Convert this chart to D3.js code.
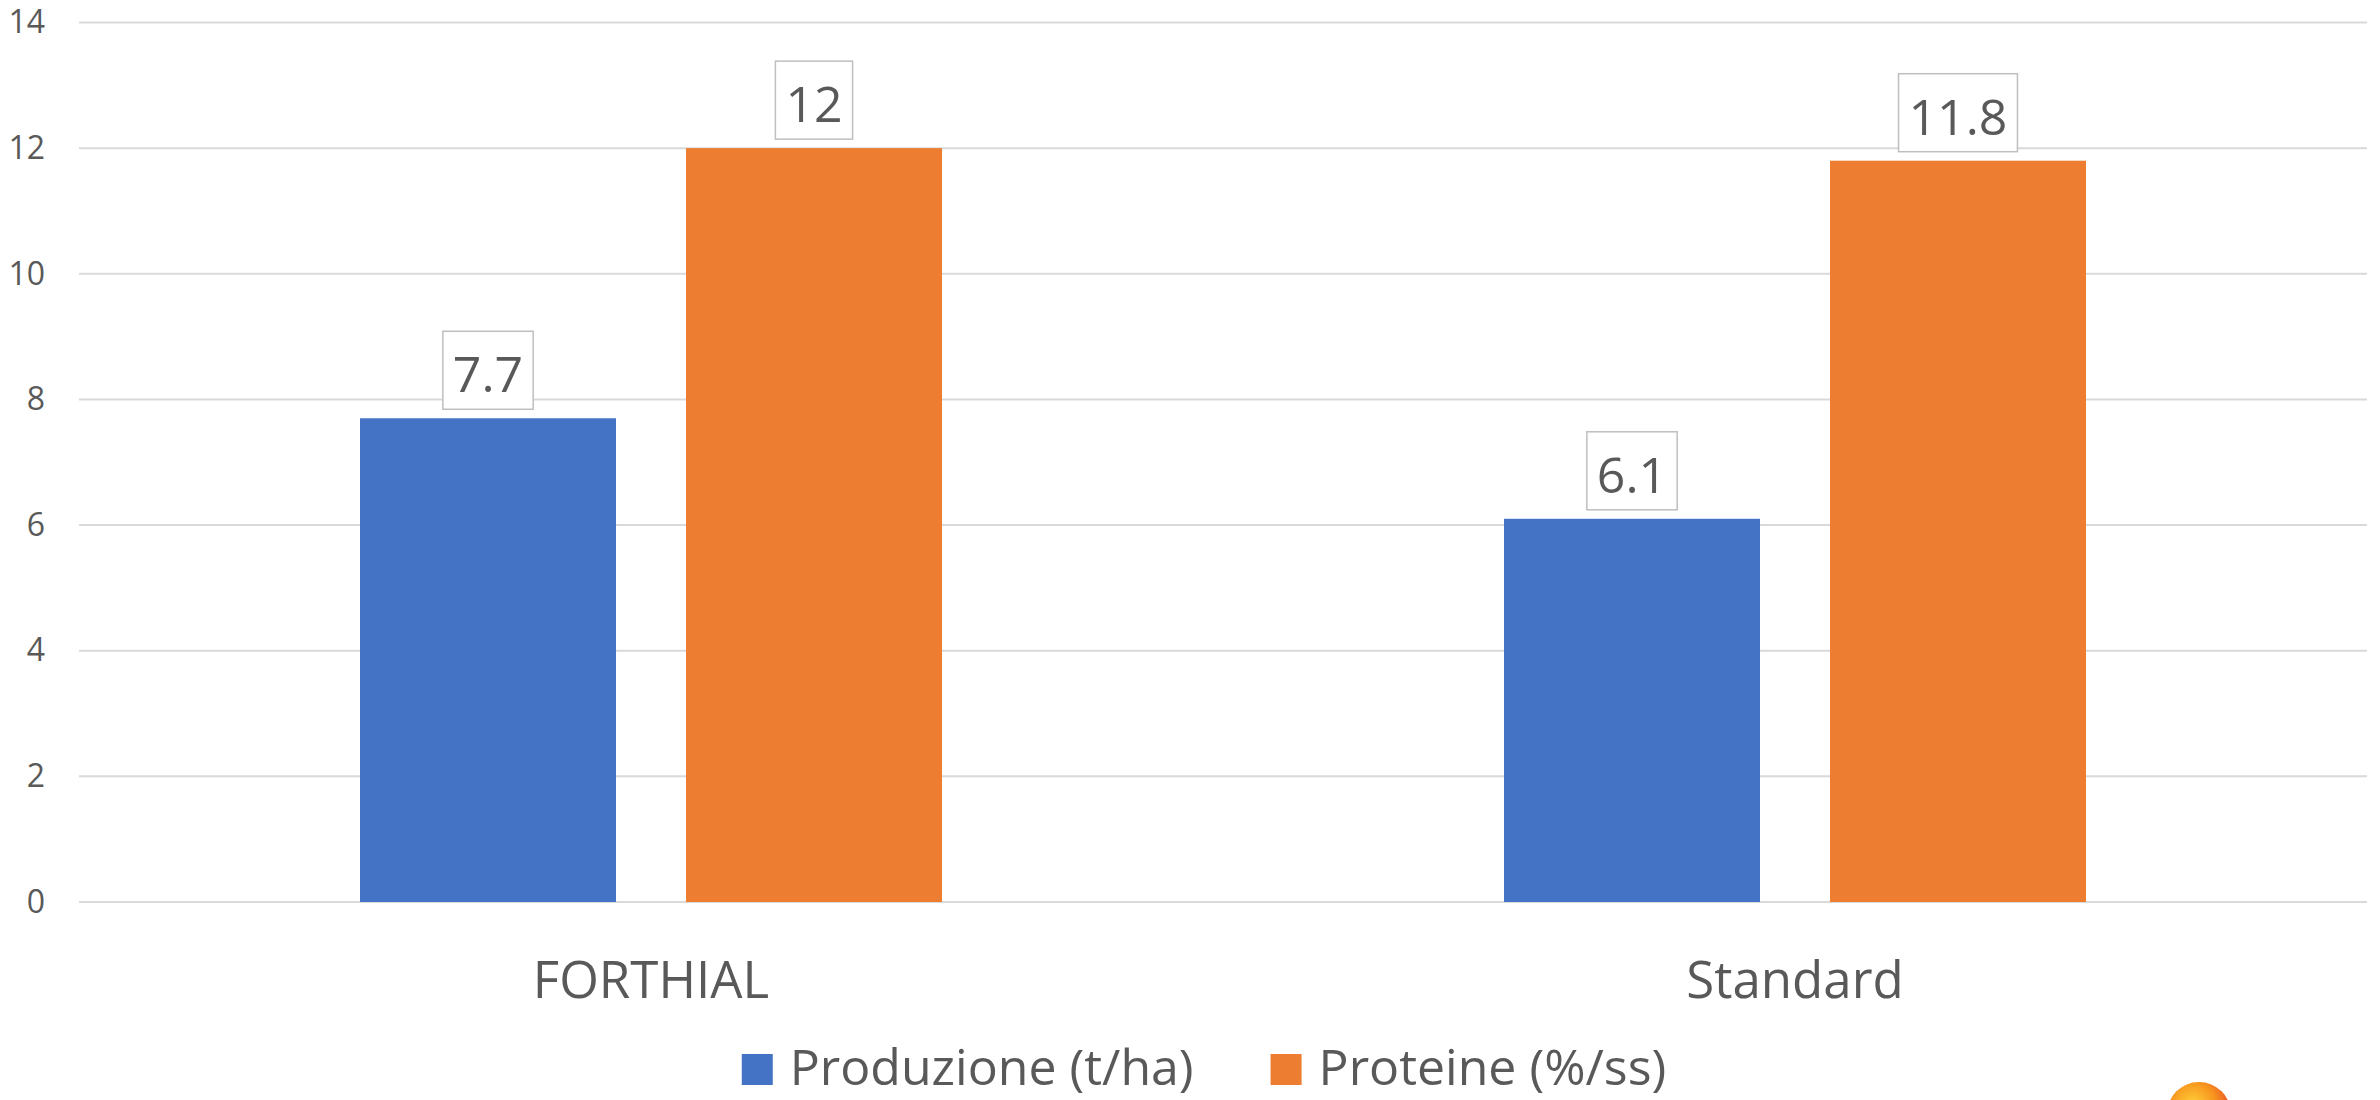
<!DOCTYPE html>
<html>
<head>
<meta charset="utf-8">
<script src="https://cdn.jsdelivr.net/npm/d3@7/dist/d3.min.js"></script>
<style>
  html, body { margin: 0; padding: 0; background: #fff; }
  svg { display: block; font-family: "Segoe UI", "Open Sans", "Noto Sans", sans-serif; }
</style>
</head>
<body>
<svg id="chart" width="2380" height="1100"></svg>
<script>
const categories = ["FORTHIAL", "Standard"];
const seriesNames = ["Produzione (t/ha)", "Proteine (%/ss)"];
const produzione = [7.7, 6.1];
const proteine = [12, 11.8];
const yTicks = [0, 2, 4, 6, 8, 10, 12, 14];
const colors = ["#4472C4", "#ED7D31"];

(function () {
const seriesValues = [produzione, proteine];
const data = categories.map((c, i) => ({
  cat: c,
  vals: seriesNames.map((s, j) => ({ series: s, idx: j, value: seriesValues[j][i] }))
}));

const svg = d3.select("#chart");
const plotLeft = 79, plotRight = 2367, plotTop = 22.5, plotBottom = 902;
const textColor = "#595959";
const fontFam = '"Segoe UI", "Open Sans", "Noto Sans", sans-serif';

const x0 = d3.scaleBand().domain(categories).range([plotLeft, plotRight]).paddingInner(0).paddingOuter(0);
const x1 = d3.scaleBand().domain(seriesNames).range([0, x0.bandwidth()]).paddingInner(0.2147).paddingOuter(0.862);
const y = d3.scaleLinear().domain([0, 14]).range([plotBottom, plotTop]);

// gridlines
svg.append("g").selectAll("line").data(yTicks).join("line")
  .attr("x1", plotLeft).attr("x2", plotRight)
  .attr("y1", d => y(d)).attr("y2", d => y(d))
  .attr("stroke", "#d9d9d9").attr("stroke-width", 2);

// y axis labels
const yAxis = d3.axisLeft(y).tickValues(yTicks).tickSize(0).tickPadding(0).tickFormat(d3.format("d"));
const gy = svg.append("g").attr("transform", "translate(45,0)").call(yAxis);
gy.select(".domain").remove();
gy.selectAll("text").attr("fill", textColor).style("font-size", "32px").style("font-family", fontFam);

// bars
const groups = svg.append("g").selectAll("g").data(data).join("g")
  .attr("transform", d => `translate(${x0(d.cat)},0)`);

groups.selectAll("rect").data(d => d.vals).join("rect")
  .attr("x", d => x1(d.series))
  .attr("width", x1.bandwidth())
  .attr("y", d => y(d.value))
  .attr("height", d => y(0) - y(d.value))
  .attr("fill", d => colors[d.idx]);

// data labels with boxes
groups.each(function (d) {
  const g = d3.select(this);
  d.vals.forEach(v => {
    const cx = x1(v.series) + x1.bandwidth() / 2;
    const baseline = y(v.value) - 10 - 16;
    const lg = g.append("g");
    const rect = lg.append("rect");
    const t = lg.append("text")
      .attr("x", cx).attr("y", baseline)
      .attr("text-anchor", "middle")
      .attr("fill", textColor)
      .style("font-size", "50px")
      .text(String(v.value));
    const tw = t.node().getComputedTextLength();
    const bw = tw + 20;
    rect.attr("x", cx - bw / 2).attr("y", baseline - 61)
      .attr("width", bw).attr("height", 78)
      .attr("fill", "#fff").attr("stroke", "#bfbfbf").attr("stroke-width", 1.5);
  });
});

// category labels
const xAxis = d3.axisBottom(x0).tickSize(0).tickPadding(0);
const gx = svg.append("g").attr("transform", `translate(0,${plotBottom})`).call(xAxis);
gx.select(".domain").remove();
gx.selectAll("text").attr("fill", textColor).attr("dy", null).attr("y", 96)
  .style("font-size", "51px").style("font-family", fontFam);

// legend
const legend = svg.append("g");
const items = legend.selectAll("g").data(seriesNames).join("g");
items.append("rect").attr("width", 31).attr("height", 31).attr("y", -31)
  .attr("fill", (d, i) => colors[i]);
items.append("text").attr("x", 48).attr("y", 0).attr("fill", textColor)
  .style("font-size", "50px").text(d => d);
let cursor = 0;
const offsets = [];
items.each(function (d, i) {
  const tw = d3.select(this).select("text").node().getComputedTextLength();
  offsets.push(cursor);
  cursor += 48 + tw + (i < seriesNames.length - 1 ? 77 : 0);
});
const legendStart = 1204 - cursor / 2;
items.attr("transform", (d, i) => `translate(${legendStart + offsets[i]},1085)`);

// partial logo at bottom right
const defs = svg.append("defs");
const grad = defs.append("radialGradient").attr("id", "sun").attr("cx", "40%").attr("cy", "35%").attr("r", "65%");
grad.append("stop").attr("offset", "0%").attr("stop-color", "#ffd23a");
grad.append("stop").attr("offset", "55%").attr("stop-color", "#f7941d");
grad.append("stop").attr("offset", "100%").attr("stop-color", "#e8452c");
svg.append("circle").attr("cx", 2199).attr("cy", 1114).attr("r", 32).attr("fill", "url(#sun)");
})();
</script>
</body>
</html>
